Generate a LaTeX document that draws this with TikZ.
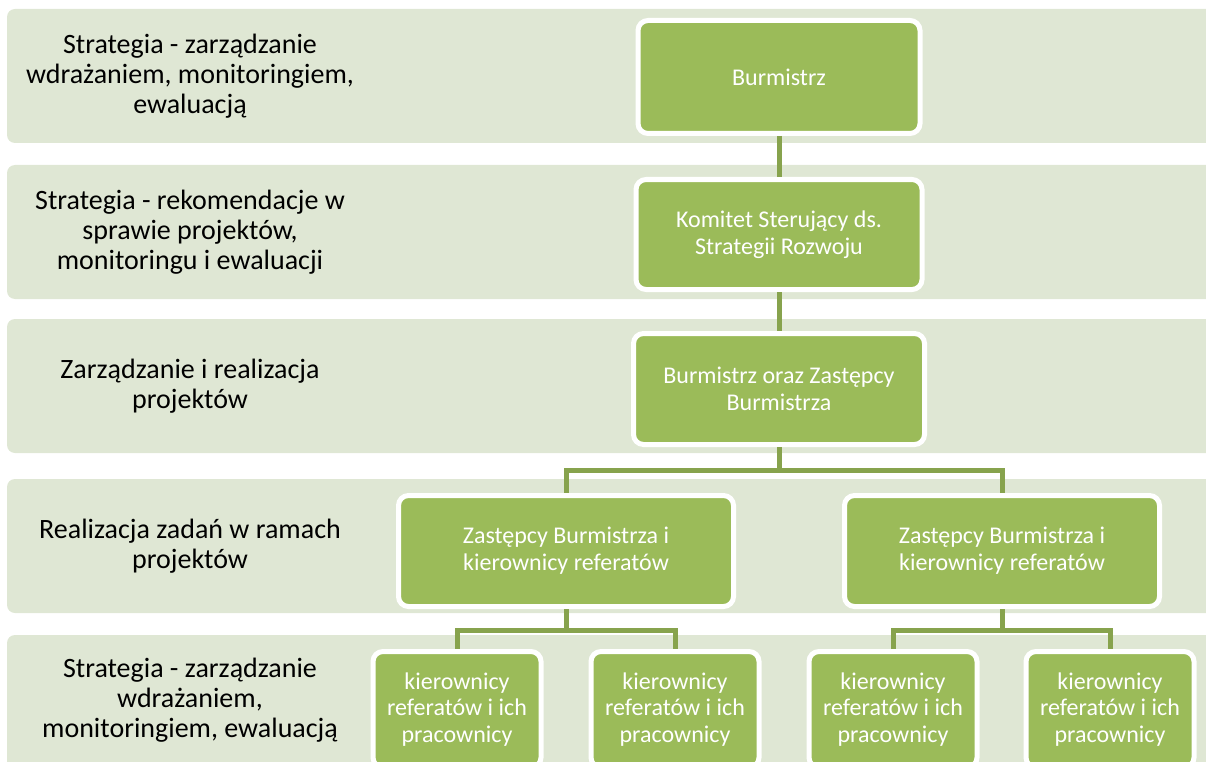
\documentclass[tikz,border=0pt]{standalone}
\usepackage{fontspec}
\setmainfont{Carlito}
\definecolor{bandgreen}{HTML}{DFE7D4}
\definecolor{boxgreen}{HTML}{9BBB59}
\definecolor{linegreen}{HTML}{87A34D}
\tikzstyle{band}=[rectangle,rounded corners=8pt,fill=bandgreen,
minimum width=1210pt,minimum height=134pt,inner sep=0pt]
\tikzstyle{level}=[align=center,text=black,font=\fontsize{28}{30}\selectfont]
\tikzstyle{unit}=[rectangle,rounded corners=10pt,draw=white,line width=5pt,
fill=boxgreen,text=white,align=center,inner sep=0pt,
font=\fontsize{24}{26.7}\selectfont]
\tikzstyle{conn}=[draw=linegreen,line width=5pt]
\usetikzlibrary{positioning}

\begin{document}
\begin{tikzpicture}[x=1pt,y=-1pt]
            \path[use as bounding box,clip] (0,0) rectangle (1206,762);

            % BANDS

            \node[band] (s1) at (612,76) {};
            \node[band] (s2) at (612,232) {};
            \node[band] (s3) at (612,386) {};
            \node[band] (s4) at (612,546) {};
            \node[band] (s5) at (612,702) {};

            \node[level] (l1) at (190,76) {Strategia - zarządzanie\\wdrażaniem, monitoringiem,\\ewaluacją};
            \node[level] (l2) at (190,232) {Strategia - rekomendacje w\\sprawie projektów,\\monitoringu i ewaluacji};
            \node[level] (l3) at (190,386) {Zarządzanie i realizacja\\projektów};
            \node[level] (l4) at (190,546) {Realizacja zadań w ramach\\projektów};
            \node[level] (l5) at (190,700) {Strategia - zarządzanie\\wdrażaniem,\\monitoringiem, ewaluacją};

            % TOP PART

            \node[unit,minimum width=282pt,minimum height=113pt] (b1) at (779,77) {Burmistrz};
            \node[unit,minimum width=286pt,minimum height=110pt,below=41pt of b1] (b2) {Komitet Sterujący ds.\\Strategii Rozwoju};
            \node[unit,minimum width=291pt,minimum height=111pt,below=39pt of b2] (b3) {Burmistrz oraz Zastępcy\\Burmistrza};

            \path[conn] (b1) edge (b2);
            \path[conn] (b2) edge (b3);

            % ZASTEPCY PART

            \node[unit,minimum width=335pt,minimum height=111pt] (b4) at (566,551) {Zastępcy Burmistrza i\\kierownicy referatów};
            \node[unit,minimum width=315pt,minimum height=111pt] (b5) at (1002,551) {Zastępcy Burmistrza i\\kierownicy referatów};

            \draw[conn] (b3.south) -- ++(0,23) -| (b4.north);
            \draw[conn] (b3.south) -- ++(0,23) -| (b5.north);

            % KIEROWNICY PART

            \node[unit,minimum width=168pt,minimum height=116pt] (b6) at (457,709.5) {kierownicy\\referatów i ich\\pracownicy};
            \node[unit,minimum width=168pt,minimum height=116pt] (b7) at (675,709.5) {kierownicy\\referatów i ich\\pracownicy};
            \node[unit,minimum width=168pt,minimum height=116pt] (b8) at (893,709.5) {kierownicy\\referatów i ich\\pracownicy};
            \node[unit,minimum width=168pt,minimum height=116pt] (b9) at (1110,709.5) {kierownicy\\referatów i ich\\pracownicy};

            \draw[conn] (b4.south) -- ++(0,21) -| (b6.north);
            \draw[conn] (b4.south) -- ++(0,21) -| (b7.north);
            \draw[conn] (b5.south) -- ++(0,21) -| (b8.north);
            \draw[conn] (b5.south) -- ++(0,21) -| (b9.north);

        \end{tikzpicture}
\end{document}
